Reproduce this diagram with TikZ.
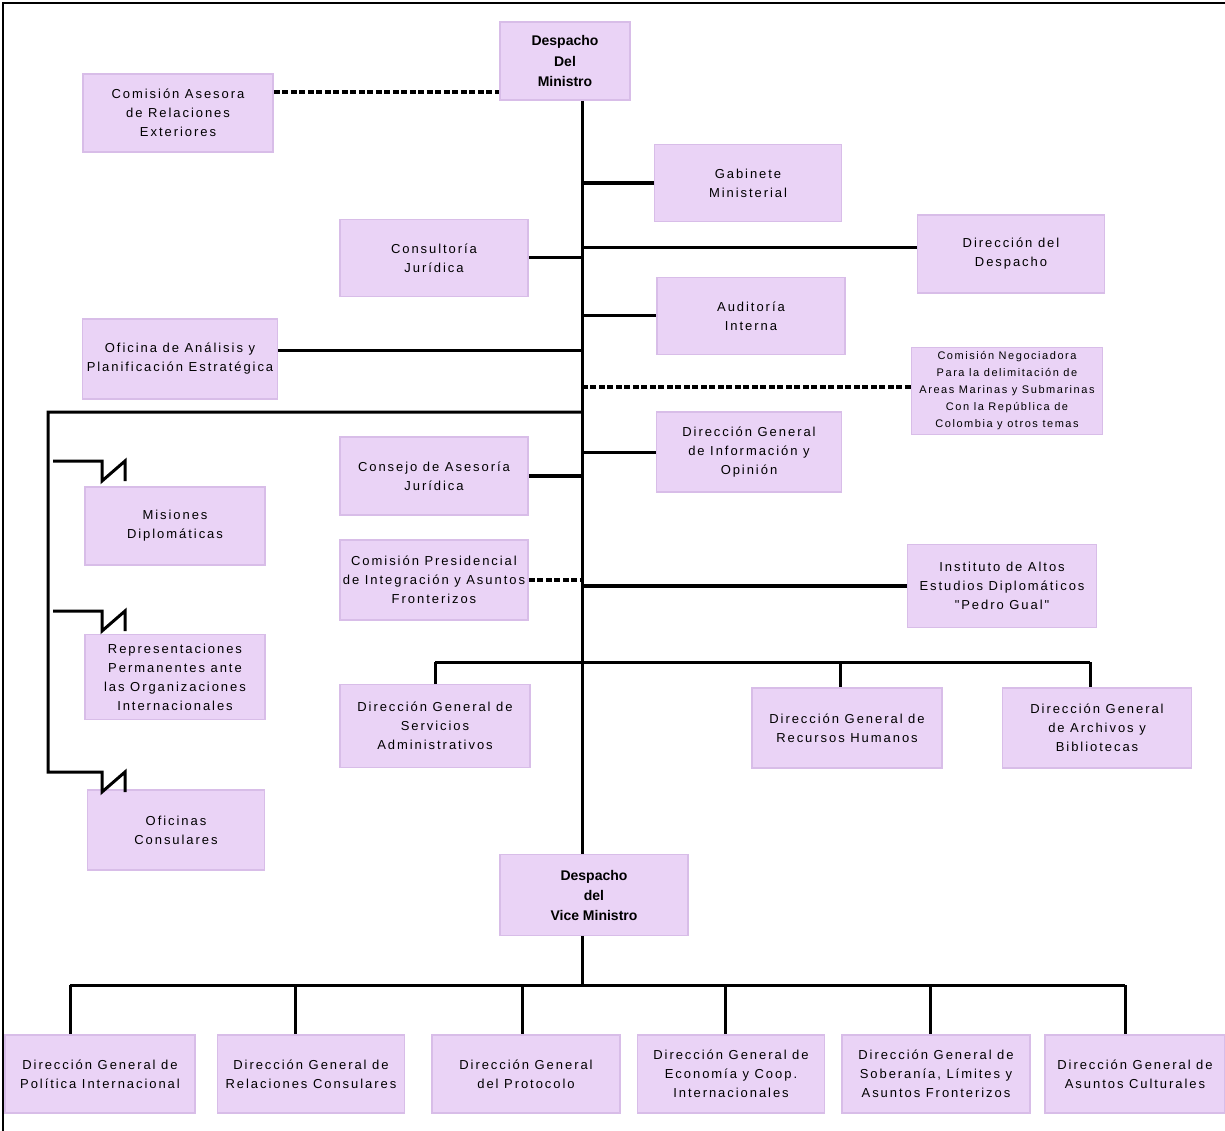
\documentclass[tikz,border=0pt]{standalone}
\usepackage{fontspec}
\setmainfont{Liberation Sans}
\newfontfamily\orgf[LetterSpace=15]{Liberation Sans}
\newfontfamily\negf[LetterSpace=14]{Liberation Sans}
\definecolor{boxfill}{HTML}{EAD3F6}
\definecolor{boxedge}{HTML}{D8BDE8}
\tikzset{
  org/.style={draw=boxedge, line width=1.6pt, fill=boxfill, align=center, inner sep=1pt,
    font=\orgf\fontsize{13}{19}\selectfont, text=black},
  title/.style={org, font=\bfseries\fontsize{14}{20}\selectfont},
  small/.style={org, font=\negf\fontsize{11}{17}\selectfont},
  sz/.style 2 args={minimum width=#1pt, minimum height=#2pt},
  conn/.style={line width=3pt, black},
  thick conn/.style={line width=4pt, black},
  dconn/.style={line width=3.4pt, black, dash pattern=on 6pt off 2.5pt},
}
\begin{document}
\begin{tikzpicture}[x=1pt, y=-1pt]
\useasboundingbox (0,0) rectangle (1225,1131);
% frame
\draw[line width=2.8pt] (1225,3) -- (3,3) -- (3,1131);
% nodes
\node[title, sz={130}{78}] (min) at (565,61) {Despacho\\Del\\Ministro};
\node[org, sz={190}{78}] (ase) at (178,113) {Comisión Asesora\\de Relaciones\\Exteriores};
\node[org, sz={187}{77}] (gab) at (748,183) {Gabinete\\Ministerial};
\node[org, sz={188}{77}] (con) at (434,258) {Consultoría\\Jurídica};
\node[org, sz={187}{78}] (ddd) at (1011,254) {Dirección del\\Despacho};
\node[org, sz={188}{77}] (aud) at (751,316) {Auditoría\\Interna};
\node[org, sz={195}{80}] (ofi) at (180,359) {Oficina de Análisis y\\Planificación Estratégica};
\node[small, sz={191}{87}] (neg) at (1007,391) {Comisión Negociadora\\Para la delimitación de\\Areas Marinas y Submarinas\\Con la República de\\Colombia y otros temas};
\node[org, sz={185}{80}] (inf) at (749,452) {Dirección General\\de Información y\\Opinión};
\node[org, sz={188}{78}] (cje) at (434,476) {Consejo de Asesoría\\Jurídica};
\node[org, sz={180}{78}] (mis) at (175,526) {Misiones\\Diplomáticas};
\node[org, sz={188}{80}] (cpr) at (434,580) {Comisión Presidencial\\de Integración y Asuntos\\Fronterizos};
\node[org, sz={189}{83}] (ins) at (1002,586) {Instituto de Altos\\Estudios Diplomáticos\\"Pedro Gual"};
\node[org, sz={180}{85}] (rep) at (175,677) {Representaciones\\Permanentes ante\\las Organizaciones\\Internacionales};
\node[org, sz={190}{83}] (ser) at (435,726) {Dirección General de\\Servicios\\Administrativos};
\node[org, sz={190}{80}] (rec) at (847,728) {Dirección General de\\Recursos Humanos};
\node[org, sz={189}{80}] (arc) at (1097,728) {Dirección General\\de Archivos y\\Bibliotecas};
\node[org, sz={177}{80}] (ofc) at (176,830) {Oficinas\\Consulares};
\node[title, sz={188}{81}] (vic) at (594,895) {Despacho\\del\\Vice Ministro};
\node[org, sz={190}{78}] (b1) at (100,1074) {Dirección General de\\Política Internacional};
\node[org, sz={187}{78}] (b2) at (311,1074) {Dirección General de\\Relaciones Consulares};
\node[org, sz={188}{78}] (b3) at (526,1074) {Dirección General\\del Protocolo};
\node[org, sz={187}{78}] (b4) at (731,1074) {Dirección General de\\Economía y Coop.\\Internacionales};
\node[org, sz={188}{78}] (b5) at (936,1074) {Dirección General de\\Soberanía, Límites y\\Asuntos Fronterizos};
\node[org, sz={180}{78}] (b6) at (1135,1074) {Dirección General de\\Asuntos Culturales};
% trunk
\coordinate (tk) at (582,0);
\draw[conn] (min.south -| tk) -- (vic.north -| tk);
\draw[dconn] (ase.east |- 0,92) -- (min.west |- 0,92);
\draw[thick conn] (gab.west) -- (gab.west -| tk);
\draw[conn] (con.east) -- (con.east -| tk);
\draw[conn] ([yshift=6pt]ddd.west) -- ([yshift=6pt]ddd.west -| tk);
\draw[conn] (aud.west) -- (aud.west -| tk);
\draw[conn] ([yshift=9pt]ofi.east) -- ([yshift=9pt]ofi.east -| tk);
\draw[dconn] ([yshift=4pt]neg.west) -- ([yshift=4pt]neg.west -| tk);
\draw[conn] (inf.west) -- (inf.west -| tk);
\draw[thick conn] (cje.east) -- (cje.east -| tk);
\draw[dconn] (cpr.east) -- (cpr.east -| tk);
\draw[thick conn] (ins.west) -- (ins.west -| tk);
% left bus with break symbols
\coordinate (lb) at (48,412);
\coordinate (lz) at (48,772);
\draw[conn] (tk |- lb) -- (lb) -- (lz) -- (102,772) -- (102,792) -- (125,772) -- (125,792);
\draw[conn] (53,461) -- (102,461) -- (102,481) -- (125,461) -- (125,481);
\draw[conn] (53,611) -- (102,611) -- (102,631) -- (125,611) -- (125,631);
% middle bus
\coordinate (m1) at (435,662);
\coordinate (m2) at (840,662);
\coordinate (m3) at (1090,662);
\draw[conn] (m1) -- (m3);
\draw[conn] (m1) -- (m1 |- ser.north);
\draw[conn] (m2) -- (m2 |- rec.north);
\draw[conn] (m3) -- (m3 |- arc.north);
% bottom bus
\coordinate (q1) at (70,985);
\coordinate (q2) at (295,985);
\coordinate (q3) at (522,985);
\coordinate (q4) at (725,985);
\coordinate (q5) at (930,985);
\coordinate (q6) at (1125,985);
\draw[conn] (vic.south -| tk) -- (tk |- q1);
\draw[conn] (q1) -- (q6);
\draw[conn] (q1) -- (q1 |- b1.north);
\draw[conn] (q2) -- (q2 |- b2.north);
\draw[conn] (q3) -- (q3 |- b3.north);
\draw[conn] (q4) -- (q4 |- b4.north);
\draw[conn] (q5) -- (q5 |- b5.north);
\draw[conn] (q6) -- (q6 |- b6.north);
\end{tikzpicture}
\end{document}
